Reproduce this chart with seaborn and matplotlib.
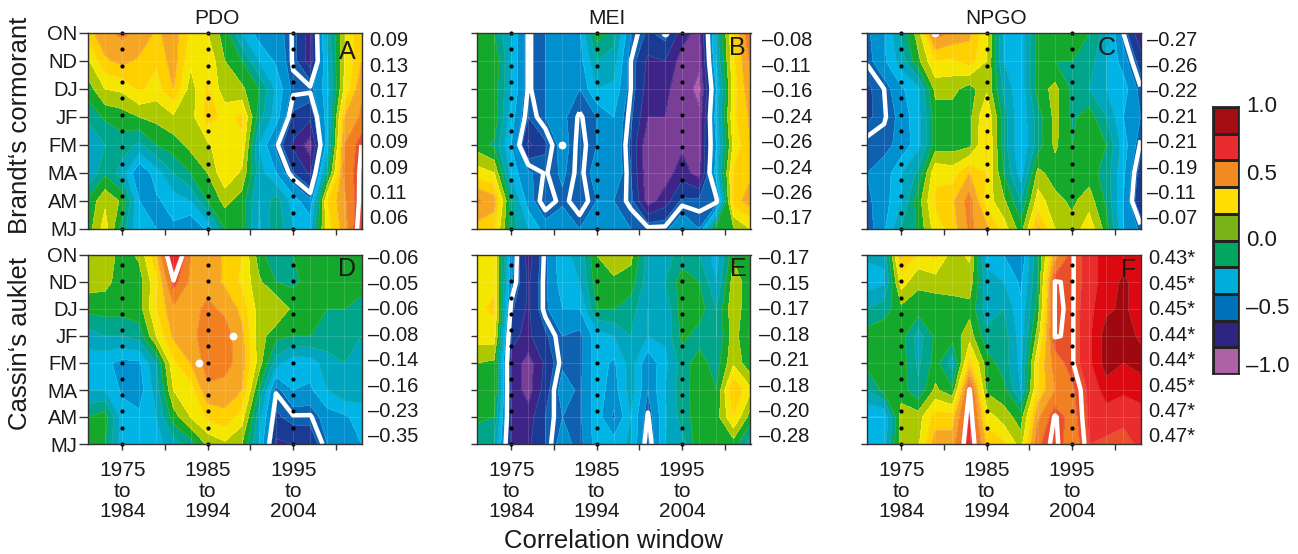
import numpy as np
import matplotlib.pyplot as plt
plt.switch_backend('agg')
from matplotlib.colors import ListedColormap, BoundaryNorm
import seaborn as sns

#####################################################
#DATA
seasons = ["ON", "ND", "DJ", "JF", "FM", "MA", "AM", "MJ"]
years = list(range(1971, 2004, 2))
tick_years = [1975, 1980, 1985, 1990, 1995, 2000]
tick_names = ["1975\nto\n1984", "", "1985\nto\n1994", "", "1995\nto\n2004", ""]

pdo_brandt = [
    [.25, .38, .42, .38, .28, .35, .18, .10, -.05, -.30, -.45, -.45, -.56, -.75, -.25, .08, .30],
    [.08, .28, .33, .28, .22, .35, .12, .18, .00, -.10, -.30, -.42, -.56, -.75, -.30, .10, .30],
    [-.05, .10, .12, .22, .15, .30, .05, .22, .03, .02, -.10, -.32, -.53, -.53, -.35, .12, .38],
    [-.18, -.08, -.05, .00, .03, .08, .05, .25, .17, .22, -.15, -.35, -.62, -.68, -.35, .30, .42],
    [-.30, -.20, -.15, -.22, -.10, -.05, .03, .08, .18, .18, -.30, -.53, -.72, -.85, -.35, .40, .55],
    [-.30, -.12, -.25, -.50, -.35, -.20, -.10, .00, .18, .08, -.25, -.40, -.60, -.72, -.15, .42, .57],
    [-.08, .08, -.02, -.40, -.42, -.35, -.30, -.10, .03, -.05, -.30, -.15, -.35, -.48, .20, .38, .58],
    [-.05, .15, -.15, -.38, -.40, -.42, -.50, -.38, -.10, -.05, -.32, -.12, -.30, -.33, .15, .35, .62],
]
mei_brandt = [
    [-.05, -.10, -.30, -.56, -.50, -.45, -.42, -.05, -.15, -.50, -.62, -.56, -.75, -.85, -.25, .20, .50],
    [-.05, -.02, -.30, -.56, -.50, -.45, -.45, -.20, -.25, -.55, -.72, -.70, -.85, -.88, -.30, .18, .42],
    [-.08, -.05, -.30, -.56, -.50, -.45, -.50, -.30, -.32, -.55, -.75, -.78, -.85, -.93, -.40, .15, .38],
    [-.05, -.03, -.35, -.60, -.50, -.48, -.56, -.50, -.40, -.58, -.80, -.80, -.85, -.88, -.35, .18, .32],
    [-.05, -.12, -.40, -.72, -.62, -.45, -.58, -.50, -.40, -.62, -.88, -.85, -.82, -.85, -.40, .12, .30],
    [.15, .10, -.35, -.48, -.56, -.48, -.58, -.45, -.40, -.60, -.88, -.85, -.75, -.85, -.35, .22, .28],
    [.42, .35, -.15, -.45, -.60, -.52, -.60, -.50, -.50, -.57, -.85, -.75, -.58, -.58, -.58, .25, .35],
    [.25, .22, -.15, -.30, -.45, -.42, -.50, -.40, -.45, -.50, -.53, -.53, -.40, -.50, -.05, -.02, .10],
]
npgo_brandt = [
    [-.52, -.42, -.18, .05, .45, .38, .32, .12, -.30, -.38, -.05, -.05, -.08, -.10, -.25, -.55, -.78],
    [-.54, -.42, -.25, -.03, .20, .18, .25, .10, -.30, -.38, -.05, -.10, -.10, -.15, -.30, -.45, -.65],
    [-.62, -.55, -.42, -.32, .03, .03, -.05, .08, -.22, -.38, -.05, .03, -.12, -.20, -.30, -.35, -.54],
    [-.62, -.56, -.47, -.33, -.05, -.05, -.03, .20, -.15, -.38, -.15, .03, -.12, -.05, -.20, -.40, -.50],
    [-.52, -.52, -.48, -.33, -.05, -.05, -.03, .22, -.15, -.40, -.15, .02, -.10, -.08, -.10, -.35, -.56],
    [-.50, -.47, -.30, -.18, .18, .15, .30, .20, -.10, -.35, .03, -.05, -.05, -.05, -.15, -.38, -.65],
    [-.52, -.45, -.30, -.05, .22, .28, .45, .15, .02, -.20, .15, .03, -.02, .05, -.12, -.40, -.70],
    [-.55, -.42, -.20, -.08, .15, .25, .42, .33, .15, -.05, .32, .10, .03, .17, -.05, -.40, -.52],
]
pdo_cassin = [
    [.03, .07, -.05, .02, .28, .72, .40, .38, .28, .20, -.05, -.20, -.10, -.08, -.05, -.05, -.05],
    [.05, .03, -.05, -.05, .18, .54, .38, .37, .28, .18, .02, -.10, -.12, -.07, -.05, -.03, -.05],
    [-.07, -.06, -.06, -.05, .20, .38, .37, .42, .38, .27, .05, .10, -.03, -.05, -.10, -.10, -.15],
    [-.25, -.20, -.20, -.15, .10, .32, .37, .45, .45, .33, .05, -.07, -.10, -.10, -.13, -.10, -.20],
    [-.35, -.38, -.43, -.42, -.20, .18, .30, .45, .44, .35, .05, -.25, -.37, -.35, -.25, -.20, -.25],
    [-.30, -.30, -.42, -.45, -.25, .10, .15, .38, .36, .30, -.10, -.54, -.40, -.42, -.30, -.22, -.25],
    [-.10, -.05, -.35, -.38, -.30, -.05, .10, .22, .27, .15, -.25, -.62, -.56, -.56, -.45, -.42, -.35],
    [-.07, -.10, -.35, -.35, -.33, -.25, -.15, .02, .08, .00, -.30, -.72, -.70, -.68, -.50, -.45, -.40],
]
mei_cassin = [
    [.18, .18, -.45, -.75, -.53, -.32, -.28, .00, .10, .03, -.25, -.25, -.15, -.20, -.35, -.02, -.05],
    [.18, .18, -.48, -.72, -.52, -.35, -.30, -.05, -.03, -.05, -.25, -.20, -.05, -.10, -.30, .05, -.05],
    [.18, .22, -.58, -.72, -.52, -.40, -.40, -.10, -.10, -.15, -.30, -.28, -.05, -.05, -.20, .08, -.10],
    [.15, .15, -.68, -.72, -.62, -.50, -.53, -.35, -.30, -.20, -.30, -.28, -.07, -.15, -.20, .05, -.12],
    [.00, -.02, -.72, -.85, -.68, -.52, -.53, -.35, -.42, -.25, -.48, -.33, -.15, -.05, -.15, .08, -.08],
    [-.05, .00, -.72, -.85, -.65, -.45, -.52, -.35, -.45, -.25, -.50, -.30, -.15, -.03, -.10, .30, .12],
    [-.07, -.10, -.70, -.75, -.60, -.50, -.52, -.35, -.52, -.30, -.56, -.32, -.15, -.05, -.05, .20, -.05],
    [-.20, -.20, -.72, -.72, -.60, -.45, -.54, -.35, -.35, -.28, -.62, -.30, -.25, -.02, -.10, -.05, -.25],
]
npgo_cassin = [
    [-.28, -.28, .32, .18, .22, .05, .12, -.35, -.40, -.50, -.10, .35, .54, .65, .75, .75, .75],
    [-.35, -.32, .15, .02, .05, .05, .05, -.25, -.30, -.42, -.10, .555, .54, .65, .75, .82, .75],
    [-.20, -.15, -.03, -.05, -.07, -.05, -.03, -.25, -.20, -.38, -.05, .56, .54, .67, .78, .82, .75],
    [-.05, -.02, -.05, -.25, -.08, -.05, .05, -.17, -.15, -.35, .05, .555, .54, .68, .85, .85, .78],
    [-.07, -.06, -.05, -.22, -.06, -.25, .25, -.05, -.15, -.33, .20, .45, .54, .68, .85, .80, .85],
    [-.20, -.07, -.05, -.18, .02, -.08, .56, -.02, -.07, -.30, .22, .40, .48, .62, .75, .72, .72],
    [-.40, -.40, .05, .05, .25, .25, .62, .15, .05, -.05, .38, .56, .45, .62, .65, .62, .68],
    [-.35, -.35, .05, .08, .35, .35, .66, .28, .22, .05, .48, .58, .42, .60, .58, .57, .62],
]

brandt_r = ["0.09", "0.13", "0.17", "0.15", "0.09", "0.09", "0.11", "0.06",
            "\u20130.08", "\u20130.11", "\u20130.16", "\u20130.24", "\u20130.26", "\u20130.24", "\u20130.26", "\u20130.17",
            "\u20130.27", "\u20130.26", "\u20130.22", "\u20130.21", "\u20130.21", "\u20130.19", "\u20130.11", "\u20130.07"]
cassin_r = ["\u20130.06", "\u20130.05", "\u20130.06", "\u20130.08", "\u20130.14", "\u20130.16", "\u20130.23", "\u20130.35",
            "\u20130.17", "\u20130.15", "\u20130.17", "\u20130.18", "\u20130.21", "\u20130.18", "\u20130.20", "\u20130.28",
            "0.43*", "0.45*", "0.45*", "0.44*", "0.44*", "0.45*", "0.47*", "0.47*"]

#small significant spots: year, season index
spots = {"D": ([1984, 1988], [4, 3]), "B": ([1981, 1993], [4, 0]), "C": ([1979], [0])}

bar_values = [.9, .7, .5, .3, .1, -.1, -.3, -.5, -.7, -.9]
bar_colors = ["#A50C14", "#E92C30", "#F08A21", "#FFDD00", "#7AB317",
              "#00A65D", "#00AEDB", "#0071BB", "#2E2583", "#AD62A5"]
bar_names = ["1.0", "0.5", "0.0", "\u20130.5", "\u20131.0"]

#####################################################
#STYLE
sns.set_theme(style="ticks")
plt.rcParams['font.family'] = ['Liberation Sans', 'DejaVu Sans']

band_colors = ["#B060A8", "#7A3E96", "#3F2488", "#1A3A94", "#1060B0", "#0090D0", "#00B4E6",
               "#00A5BE", "#00A58C", "#14A82C", "#ACC800", "#F5E600", "#FFD000", "#F5A623",
               "#F08020", "#E8502A", "#E92D2D", "#DC0A10", "#A00810", "#900810"]
levels = np.round(np.arange(-1, 1.01, 0.1), 1)
cmap = ListedColormap(band_colors)
norm = BoundaryNorm(levels, cmap.N)

W, H = 1298, 554
fig = plt.figure(figsize=(W / 100, H / 100), dpi=100)


def add_axes(x0, y0, x1, y1):
    return fig.add_axes([x0 / W, 1 - y1 / H, (x1 - x0) / W, (y1 - y0) / H])


def text_px(x, y, s, **kw):
    fig.text(x / W, 1 - y / H, s, color="#1a1a1a", **kw)


grid_x = [88, 477, 867]
rows = [(33, 229, 0.0, 13), (255, 444, 0.37, 12)]
fields = [pdo_brandt, mei_brandt, npgo_brandt, pdo_cassin, mei_cassin, npgo_cassin]
letters = ["A", "B", "C", "D", "E", "F"]
letter_pos = [(259, 19), (260, 15), (240, 15), (259, 14), (261, 14), (262, 15)]
right_pos = [281, 285, 280, 280, 282, 281]
row_y = np.arange(8)

for n in range(6):
    col = n % 3
    top, bottom, dot_start, dot_count = rows[n // 3]
    x0 = grid_x[col]
    ax = add_axes(x0, top, x0 + 273.5, bottom)
    z = np.array(fields[n])
    ax.contourf(years, row_y, z, levels=levels, cmap=cmap, norm=norm)
    ax.contour(years, row_y, z, levels=levels, colors="white", linewidths=0.35, alpha=0.3)
    for yr in years[1:-1]:
        ax.axvline(yr, color="white", lw=0.5, alpha=0.2)
    for r in row_y[1:-1]:
        ax.axhline(r, color="white", lw=0.5, alpha=0.2)
    ax.contour(years, row_y, z, levels=[-0.55, 0.55], colors="white", linewidths=3.2,
               linestyles="solid")
    if letters[n] in spots:
        sx, sy = spots[letters[n]]
        sns.scatterplot(x=sx, y=sy, color="white", s=32, linewidth=0, ax=ax, clip_on=True, zorder=5)
    #dotted window markers
    for yr in [1975, 1985, 1995]:
        dot_y = np.linspace(dot_start, 7, dot_count)
        sns.scatterplot(x=[yr] * dot_count, y=dot_y, color="black", s=9, linewidth=0, ax=ax,
                        clip_on=False, zorder=6)
    ax.set_xlim(1971, 2003)
    ax.set_ylim(7, 0)
    ax.set_xticks(tick_years)
    ax.set_yticks(row_y)
    if n >= 3:
        ax.set_xticklabels(tick_names, fontsize=15, linespacing=1.1, color="#1a1a1a")
    else:
        ax.set_xticklabels([])
    if col == 0:
        ax.set_yticklabels(seasons, fontsize=14.5, color="#1a1a1a")
    else:
        ax.set_yticklabels([])
    ax.tick_params(axis='y', length=6.5 if col == 0 else 4.5, width=1, color="#333333", pad=1)
    ax.tick_params(axis='x', length=4.5, width=1, color="#333333", pad=8)
    for side in ax.spines.values():
        side.set_color("#333333")
        side.set_linewidth(1)
        side.set_zorder(7)
    #letter
    text_px(x0 + letter_pos[n][0], top + letter_pos[n][1], letters[n], fontsize=18, ha="center", va="center")
    #correlations right of the panel
    labels = (brandt_r if n < 3 else cassin_r)[col * 8:(col + 1) * 8]
    first = 41 if n < 3 else 259
    for i, lab in enumerate(labels):
        text_px(x0 + right_pos[n], first + i * 25.4, lab, fontsize=14.5, ha="left", va="center")

#column titles and axis names
for x, s in zip([217, 607, 996], ["PDO", "MEI", "NPGO"]):
    text_px(x, 19, s, fontsize=15, ha="center", va="center")
text_px(20, 125, "Brandt\u2018s cormorant", fontsize=18.5, rotation=90, ha="center", va="center")
text_px(20, 343, "Cassin\u2018s auklet", fontsize=18.5, rotation=90, ha="center", va="center")
text_px(613, 541, "Correlation window", fontsize=18.5, ha="center", va="center")

#colour key
cax = add_axes(1213, 107, 1239, 374)
sns.heatmap(np.array(bar_values).reshape(-1, 1), cmap=ListedColormap(bar_colors[::-1]), vmin=-1, vmax=1,
            cbar=False, linewidths=0.8, linecolor="#222222", xticklabels=False, yticklabels=False, ax=cax)
for side in cax.spines.values():
    side.set_visible(True)
    side.set_color("#222222")
for y, s in zip([107, 174, 241, 308, 367], bar_names):
    text_px(1246, y, s, fontsize=16, ha="left", va="center")

plt.savefig("out.png", dpi=100)
